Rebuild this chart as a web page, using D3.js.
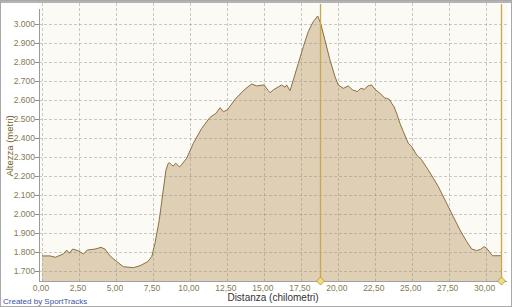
<!DOCTYPE html>
<html><head><meta charset="utf-8">
<script src="https://cdn.jsdelivr.net/npm/d3@7"></script>
<style>html,body{margin:0;padding:0;background:#fff;overflow:hidden}</style>
</head><body>
<svg id="c" width="512" height="307"></svg>
<script>
const distKm = [0,0.54,0.9,1.44,1.67,1.85,2.07,2.46,2.8,3.06,3.58,3.99,4.26,4.6,5.05,5.5,6.17,6.63,7.15,7.42,7.64,7.93,8.2,8.32,8.38,8.54,8.61,8.77,8.88,9.04,9.28,9.33,9.78,10.23,10.8,11.36,11.76,12.04,12.26,12.53,13.05,13.39,13.79,14.18,14.52,15.01,15.3,15.42,15.64,15.98,16.2,16.43,16.54,16.77,16.99,17.33,17.67,18.0,18.34,18.64,18.84,19.13,19.47,19.81,20.03,20.37,20.71,21.0,21.32,21.55,21.79,22.06,22.29,22.52,22.85,23.19,23.3,23.53,23.64,23.8,23.98,24.2,24.43,24.77,25.0,25.33,25.67,26.12,26.46,26.8,27.36,27.81,28.26,28.72,29.05,29.39,29.66,29.89,30.07,30.29,30.47,31.03];
const altM = [1778,1778,1771,1788,1809,1792,1814,1805,1788,1809,1814,1823,1814,1778,1748,1721,1716,1726,1748,1774,1845,1968,2126,2196,2231,2267,2270,2258,2252,2267,2249,2249,2293,2372,2451,2509,2530,2560,2539,2548,2604,2632,2662,2685,2675,2680,2650,2639,2654,2670,2680,2668,2680,2650,2706,2794,2882,2961,3014,3044,3005,2917,2812,2724,2680,2662,2675,2654,2645,2662,2657,2676,2680,2657,2636,2610,2610,2601,2583,2566,2530,2478,2434,2372,2354,2311,2284,2231,2188,2143,2056,1985,1915,1853,1815,1806,1813,1827,1818,1795,1779,1779];
const xTicks = [0,2.5,5,7.5,10,12.5,15,17.5,20,22.5,25,27.5,30];
const yTicks = [1700,1800,1900,2000,2100,2200,2300,2400,2500,2600,2700,2800,2900,3000];
const markers = [18.82,31.03];
const yTitle = "Altezza (metri)";
const xTitle = "Distanza (chilometri)";
const credit = "Created by SportTracks";

(function(){
const svg = d3.select("#c");
const fmtX = d => d3.format(".2f")(d).replace(".", ",");
const fmtY = d => d3.format(",")(d).replace(",", ".");

const x = d3.scaleLinear().domain([0, 30]).range([42, 485.7]);
const y = d3.scaleLinear().domain([1700, 3000]).range([270.7, 24.3]);
const pL = 39, pR = 507, pT = 3, pB = 281;

svg.append("rect").attr("x",0.5).attr("y",0.5).attr("width",511).attr("height",306)
  .attr("fill","#fff").attr("stroke","#a9a9a9").attr("stroke-width",1);
svg.append("rect").attr("x",1).attr("y",1).attr("width",510).attr("height",2).attr("fill","#b4b4b4");
svg.append("rect").attr("x",pL).attr("y",pT).attr("width",pR-pL).attr("height",pB-pT)
  .attr("fill","#fbfaf5");

const data = distKm.map((d,i)=>({d, a: altM[i]}));
const area = d3.area().x(p=>x(p.d)).y0(pB).y1(p=>y(p.a));
const line = d3.line().x(p=>x(p.d)).y(p=>y(p.a));
svg.append("path").datum(data).attr("d", area).attr("fill","#dfcfb5");

const g = svg.append("g");
g.selectAll("line.h").data(yTicks).join("line").attr("class","h")
  .attr("x1",pL).attr("x2",pR).attr("y1",d=>Math.round(y(d))+0.5).attr("y2",d=>Math.round(y(d))+0.5)
  .attr("stroke","#8c8c8c").attr("stroke-opacity",0.45).attr("stroke-dasharray","3,2");
g.selectAll("line.v").data(xTicks).join("line").attr("class","v")
  .attr("y1",pT).attr("y2",pB).attr("x1",d=>Math.round(x(d))+0.5).attr("x2",d=>Math.round(x(d))+0.5)
  .attr("stroke","#8c8c8c").attr("stroke-opacity",0.45).attr("stroke-dasharray","3,2");

svg.append("path").datum(data).attr("d", line).attr("fill","none")
  .attr("stroke","#8a7040").attr("stroke-width",1);

svg.append("line").attr("x1",pL+0.5).attr("x2",pL+0.5).attr("y1",pT+6).attr("y2",pB)
  .attr("stroke","#9a9a9a");
svg.append("line").attr("x1",pL).attr("x2",pR).attr("y1",pB+0.5).attr("y2",pB+0.5)
  .attr("stroke","#a0a0a0");

const ya = svg.append("g");
ya.selectAll("line").data(yTicks).join("line")
  .attr("x1",pL-4).attr("x2",pL).attr("y1",d=>Math.round(y(d))+0.5).attr("y2",d=>Math.round(y(d))+0.5)
  .attr("stroke","#8c8c8c");
ya.selectAll("text").data(yTicks).join("text")
  .attr("x",pL-4).attr("y",d=>y(d)+3).attr("text-anchor","end")
  .attr("font-family","Liberation Sans, Arial, sans-serif").attr("font-size",8.5)
  .attr("fill","#857a55").text(fmtY);

const xa = svg.append("g");
xa.selectAll("text").data(xTicks).join("text")
  .attr("x",d=>x(d)-1).attr("y",291).attr("text-anchor","middle")
  .attr("font-family","Liberation Sans, Arial, sans-serif").attr("font-size",8.5)
  .attr("fill","#857a55").text(fmtX);

markers.forEach(m => {
  const mx = Math.round(x(m)) + 0.5;
  svg.append("line").attr("x1",mx).attr("x2",mx).attr("y1",pT+1).attr("y2",pB)
    .attr("stroke","#c9a84a").attr("stroke-width",1.3);
  svg.append("path").attr("d", `M${mx},${pB-4} L${mx+4},${pB} L${mx},${pB+4} L${mx-4},${pB} Z`)
    .attr("fill","#f0dc78").attr("stroke","#a89040").attr("stroke-width",0.8);
});

svg.append("text").attr("transform","translate(13,146) rotate(-90)").attr("text-anchor","middle")
  .attr("font-family","Liberation Sans, Arial, sans-serif").attr("font-size",9.5)
  .attr("fill","#6f5e1e").text(yTitle);
svg.append("text").attr("x",273).attr("y",301).attr("text-anchor","middle")
  .attr("font-family","Liberation Sans, Arial, sans-serif").attr("font-size",10)
  .attr("fill","#333").text(xTitle);
svg.append("text").attr("x",3).attr("y",304).attr("text-anchor","start")
  .attr("font-family","Liberation Sans, Arial, sans-serif").attr("font-size",8)
  .attr("fill","#3a52a8").text(credit);
})();
</script>
</body></html>
